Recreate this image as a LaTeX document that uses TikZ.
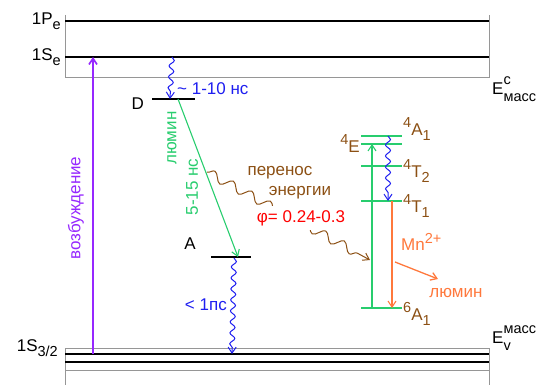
\documentclass[tikz,border=0pt]{standalone}
\usepackage{fontspec}
\setmainfont{Liberation Sans}
\usetikzlibrary{arrows.meta,decorations.pathmorphing}
\definecolor{excviolet}{RGB}{150,40,255}
\definecolor{lumgreen}{RGB}{40,205,110}
\definecolor{relaxblue}{RGB}{30,30,240}
\definecolor{transbrown}{RGB}{140,80,20}
\definecolor{mnorange}{RGB}{255,120,60}
\definecolor{boxgray}{RGB}{150,150,150}
\newcommand{\lo}[1]{\raisebox{-0.5ex}{\fontsize{14.5}{15}\selectfont #1}}
\newcommand{\hi}[1]{\raisebox{0.85ex}{\fontsize{14.5}{15}\selectfont #1}}
\newcommand{\term}[3]{\hi{#1}#2\lo{#3}}
\newcommand{\both}[3]{#1\rlap{\raisebox{1.15ex}{\fontsize{14.5}{15}\selectfont #2}}\raisebox{-0.75ex}{\fontsize{14.5}{15}\selectfont #3}}

\begin{document}
\begin{tikzpicture}[
    x=1pt,y=-1pt,
    font=\fontsize{17}{19}\selectfont,
    boxline/.style={draw=boxgray,line width=1pt},
    level/.style={line width=1.6pt},
    mnlevel/.style={draw=lumgreen,line width=1.6pt},
    tip/.style={-{Straight Barb[length=6pt,width=8pt]}},
    wave/.style={decorate,decoration={snake,segment length=11pt,amplitude=2.5pt,post length=6pt}},
    bigwave/.style={decorate,decoration={snake,segment length=21pt,amplitude=4.5pt,post length=7pt}},
    tag/.style={inner sep=1pt}
  ]
    \useasboundingbox (0,0) rectangle (555,385);

    % bands
    \draw[boxline] (65,15) -- (65,78) -- (489,78) -- (489,15);
    \draw[level] (65,21) -- (489,21);
    \draw[level] (65,57) -- (489,57);
    \draw[boxline] (65,385) -- (65,348) -- (489,348) -- (489,385);
    \draw[boxline] (65,370) -- (489,370);
    \draw[level] (65,354) -- (489,354);
    \draw[level] (65,362) -- (489,362);

    \node[tag,anchor=east] (pe) at (62,21) {1P\lo{e}};
    \node[tag,anchor=east] (se) at (62,57) {1S\lo{e}};
    \node[tag,anchor=east] (sh) at (59,348) {1S\lo{3/2}};
    \node[tag,anchor=west] (ec) at (491,89) {\both{E}{c}{масс}};
    \node[tag,anchor=west] (ev) at (491,338) {\both{E}{масс}{v}};

    % defect levels
    \draw[level] (152,99) -- (195,99);
    \draw[level] (211,257) -- (251,257);
    \node[tag,anchor=east] (dname) at (145,104) {D};
    \node[tag] (aname) at (190,244) {A};

    \coordinate (seExc) at (93,57);
    \coordinate (vbExc) at (93,354);
    \coordinate (seD) at (172,57);
    \coordinate (dTop) at (170,99);
    \coordinate (dLum) at (178,99);
    \coordinate (aLum) at (238,257);
    \coordinate (aTop) at (234,258);
    \coordinate (vbA) at (232,354);

    \draw[excviolet,line width=1.6pt,tip] (vbExc) -- (seExc);
    \node[tag,excviolet,rotate=90] (exc) at (76,208) {возбуждение};

    \draw[relaxblue,line width=1pt,tip,wave] (seD) -- (dTop);
    \node[tag,relaxblue,anchor=west] (tD) at (176,89) {\textasciitilde\ 1-10 нс};

    \draw[lumgreen,line width=1.1pt,tip] (dLum) -- (aLum);
    \node[tag,lumgreen,rotate=90] (lumD) at (172,138) {люмин};
    \node[tag,lumgreen,rotate=90] (tDA) at (192,187) {5-15 нс};

    \draw[relaxblue,line width=1pt,tip,wave] (aTop) -- (vbA);
    \node[tag,relaxblue,anchor=east] (tA) at (228,305) {< 1пс};

    % Mn levels
    \draw[mnlevel] (361,136) -- (402,136);
    \draw[mnlevel] (361,144) -- (402,144);
    \draw[mnlevel] (361,166) -- (402,166);
    \draw[mnlevel] (361,201) -- (402,201);
    \draw[mnlevel] (361,308) -- (402,308);
    \node[tag,transbrown,anchor=west] (a4) at (402,129) {\term{4}{A}{1}};
    \node[tag,transbrown,anchor=east] (e4) at (361,146) {\term{4}{E}{}};
    \node[tag,transbrown,anchor=west] (t42) at (402,171) {\term{4}{T}{2}};
    \node[tag,transbrown,anchor=west] (t41) at (402,206) {\term{4}{T}{1}};
    \node[tag,transbrown,anchor=west] (a6) at (402,314) {\term{6}{A}{1}};

    \coordinate (mnBot) at (372,308);
    \coordinate (mnTop) at (372,144);
    \coordinate (mnHit) at (370,260);
    \coordinate (a4Rel) at (388,136);
    \coordinate (t41Rel) at (388,201);
    \coordinate (t41Lum) at (392,201);
    \coordinate (a6Lum) at (392,308);
    \coordinate (mnFrom) at (395,262);
    \coordinate (mnTo) at (438,279);

    \draw[lumgreen,line width=1.1pt,tip] (mnBot) -- (mnTop);
    \draw[relaxblue,line width=1pt,tip,wave] (a4Rel) -- (t41Rel);
    \draw[mnorange,line width=1.1pt,tip] (t41Lum) -- (a6Lum);
    \draw[mnorange,line width=1.3pt,tip] (mnFrom) -- (mnTo);
    \node[tag,mnorange,anchor=west] (mn) at (400,242) {Mn\hi{2+}};
    \node[tag,mnorange] (lumMn) at (456,293) {люмин};

    % energy transfer
    \coordinate (dTrans) at (207,172);
    \draw[transbrown,line width=1pt,tip,bigwave] (dTrans) -- (mnHit);
    \node[tag,transbrown] (tr1) at (280,173) {перенос};
    \node[tag,transbrown] (tr2) at (300,193) {энергии};
    \node[tag,red,fill=white,inner ysep=4pt] (phi) at (301,218) {φ= 0.24-0.3};
\end{tikzpicture}
\end{document}
